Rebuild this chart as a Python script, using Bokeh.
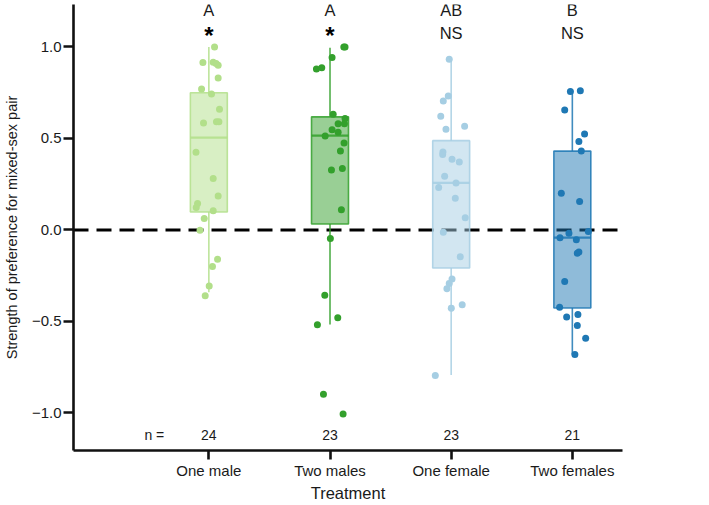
from bokeh.plotting import figure
from bokeh.models import Range1d, FixedTicker, ColumnDataSource, Span, LabelSet
from bokeh.core.properties import value
from bokeh.embed import file_html
from bokeh.resources import INLINE

# ---- data ---------------------------------------------------------------
treatments = ["One male", "Two males", "One female", "Two females"]
colors = ["#b2df8a", "#33a02c", "#a6cee3", "#1f78b4"]
n_labels = ["24", "23", "23", "21"]
group_letters = ["A", "A", "AB", "B"]
signif = ["*", "*", "NS", "NS"]

y_ticks = [-1.0, -0.5, 0.0, 0.5, 1.0]
y_tick_labels = ["\u22121.0", "\u22120.5", "0.0", "0.5", "1.0"]

# box summaries: lower whisker, Q1, median, Q3, upper whisker
whisker_low = [-0.34, -0.516, -0.793, -0.681]
q1 = [0.098, 0.033, -0.208, -0.426]
median = [0.505, 0.516, 0.257, -0.042]
q3 = [0.75, 0.618, 0.488, 0.431]
whisker_high = [1.0, 0.996, 0.933, 0.757]

# individual responses per treatment
one_male = [1.0, 0.915, 0.917, 0.90, 0.83, 0.77, 0.743, 0.66, 0.585, 0.592,
            0.592, 0.424, 0.281, 0.186, 0.145, 0.123, 0.105, 0.062, -0.002,
            -0.16, -0.20, -0.306, -0.359, 0.91]
two_males = [1.0, 1.0, 0.942, 0.88, 0.886, 0.632, 0.609, 0.58, 0.58, 0.547,
             0.534, 0.513, 0.475, 0.431, 0.328, 0.336, 0.11, -0.047, -0.357,
             -0.48, -0.518, -0.898, -1.005]
one_female = [0.933, 0.732, 0.705, 0.621, 0.551, 0.567, 0.426, 0.413, 0.387,
              0.371, 0.293, 0.257, 0.232, 0.174, 0.067, -0.013, -0.147,
              -0.268, -0.292, -0.321, -0.428, -0.408, -0.795]
two_females = [0.757, 0.761, 0.656, 0.524, 0.484, 0.431, 0.201, 0.156,
               -0.043, -0.018, -0.054, -0.009, -0.12, -0.127, -0.281, -0.422,
               -0.475, -0.462, -0.522, -0.592, -0.681]

# horizontal jitter of each point (in category units)
jit_one_male = [0.047, -0.049, 0.036, 0.077, 0.077, -0.060, 0.022, 0.088,
                -0.044, 0.063, 0.083, -0.106, 0.036, 0.077, -0.093, -0.104,
                0.036, -0.038, -0.073, 0.072, 0.030, 0.003, -0.030, 0.060]
jit_two_males = [0.114, 0.124, 0.017, -0.112, -0.068, 0.026, 0.124, 0.067,
                 0.119, 0.017, 0.067, -0.040, 0.116, 0.086, 0.012, 0.102,
                 0.094, 0.003, -0.043, 0.064, -0.104, -0.054, 0.108]
jit_one_female = [-0.016, -0.024, -0.065, -0.086, -0.043, 0.111, -0.068,
                  -0.070, 0.007, 0.067, -0.054, 0.040, -0.103, 0.034, 0.116,
                  -0.065, 0.075, 0.007, -0.016, -0.035, 0.001, 0.091, -0.131]
jit_two_females = [-0.016, 0.066, -0.063, 0.101, 0.054, 0.074, -0.091, 0.060,
                   -0.102, -0.028, 0.033, 0.132, 0.054, 0.041, -0.063, -0.105,
                   -0.047, 0.046, 0.041, 0.110, 0.021]

groups = [one_male, two_males, one_female, two_females]
jitters = [jit_one_male, jit_two_males, jit_one_female, jit_two_females]

FONT = "Liberation Sans"
TEXT = "#1a1a1a"
AXIS = "#111111"
BOX_W = 0.305
pos = list(range(len(treatments)))

p = figure(width=709, height=505, output_backend="svg", toolbar_location=None,
           x_range=Range1d(-1.117, 3.414), y_range=Range1d(-1.205, 1.232),
           min_border_left=72, min_border_right=87, min_border_top=4,
           min_border_bottom=55)
p.outline_line_color = None
p.xgrid.visible = False
p.ygrid.visible = False
p.background_fill_color = "white"

# zero reference line
p.add_layout(Span(location=0, dimension="width", line_color="black",
                  line_width=3, line_dash="15 8", level="underlay"))

# whiskers
p.segment(x0=pos, x1=pos, y0=q3, y1=whisker_high, line_color=colors,
          line_alpha=0.85, line_width=1.6)
p.segment(x0=pos, x1=pos, y0=whisker_low, y1=q1, line_color=colors,
          line_alpha=0.85, line_width=1.6)

# boxes
p.vbar(x=pos, width=BOX_W, bottom=q1, top=q3, fill_color=colors,
       fill_alpha=0.5, line_color=colors, line_alpha=0.85, line_width=1.6)
p.segment(x0=[x - BOX_W / 2 for x in pos], x1=[x + BOX_W / 2 for x in pos],
          y0=median, y1=median, line_color=colors, line_alpha=0.85,
          line_width=2.2)

# jittered points
for i, (vals, jit) in enumerate(zip(groups, jitters)):
    src = ColumnDataSource(dict(x=[i + j for j in jit], y=vals))
    p.scatter("x", "y", source=src, size=7, fill_color=colors[i],
              line_color=None)

# group letters and significance marks above the boxes
letters_src = ColumnDataSource(dict(x=pos, y=[1.2] * 4, t=group_letters))
p.add_layout(LabelSet(x="x", y="y", text="t", source=letters_src,
                      text_align="center", text_baseline="middle",
                      text_font=value(FONT), text_font_size="16.5px",
                      text_color=TEXT))
star_idx = [i for i, s in enumerate(signif) if s == "*"]
ns_idx = [i for i, s in enumerate(signif) if s != "*"]
star_src = ColumnDataSource(dict(x=star_idx, y=[1.06] * len(star_idx),
                                 t=[signif[i] for i in star_idx]))
p.add_layout(LabelSet(x="x", y="y", text="t", source=star_src,
                      text_align="center", text_baseline="middle",
                      text_font=value(FONT), text_font_size="24px",
                      text_font_style="bold", text_color="black"))
ns_src = ColumnDataSource(dict(x=ns_idx, y=[1.079] * len(ns_idx),
                               t=[signif[i] for i in ns_idx]))
p.add_layout(LabelSet(x="x", y="y", text="t", source=ns_src,
                      text_align="center", text_baseline="middle",
                      text_font=value(FONT), text_font_size="16.5px",
                      text_color=TEXT))

# sample sizes
p.text(x=[-0.45], y=[-1.123], text=["n ="], text_align="center",
       text_baseline="middle", text_font=value(FONT), text_font_size="14px",
       text_color=TEXT)
p.text(x=pos, y=[-1.123] * 4, text=n_labels, text_align="center",
       text_baseline="middle", text_font=value(FONT), text_font_size="14px",
       text_color=TEXT)

# axes
for ax in (p.xaxis[0], p.yaxis[0]):
    ax.axis_line_width = 2.6
    ax.axis_line_color = AXIS
    ax.major_tick_line_width = 2.6
    ax.major_tick_line_color = AXIS
    ax.major_tick_in = 0
    ax.major_tick_out = 10
    ax.minor_tick_line_color = None
    ax.major_label_text_font = FONT
    ax.major_label_text_font_size = "15px"
    ax.major_label_text_color = TEXT
    ax.axis_label_text_font = FONT
    ax.axis_label_text_font_style = "normal"
    ax.axis_label_text_color = TEXT

p.yaxis.ticker = FixedTicker(ticks=y_ticks)
p.yaxis.major_label_overrides = dict(zip(y_ticks, y_tick_labels))
p.yaxis.axis_label = "Strength of preference for mixed-sex pair"
p.yaxis.axis_label_text_font_size = "14.5px"
p.yaxis.major_label_standoff = 2
p.yaxis.axis_label_standoff = 9

p.xaxis.ticker = FixedTicker(ticks=pos)
p.xaxis.major_label_overrides = dict(zip(pos, treatments))
p.xaxis.major_tick_out = 9
p.xaxis.major_label_standoff = 2
p.xaxis.axis_label = "Treatment"
p.xaxis.axis_label_text_font_size = "16.5px"
p.xaxis.axis_label_standoff = 2

open("out.html", "w").write(file_html(p, INLINE))
